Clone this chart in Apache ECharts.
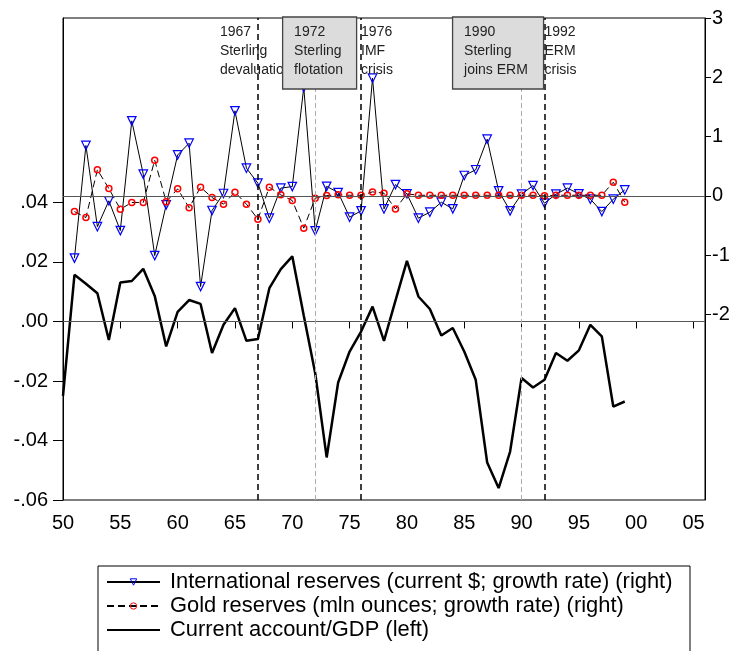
<!DOCTYPE html>
<html>
<head>
<meta charset="utf-8">
<script src="https://cdn.jsdelivr.net/npm/echarts@6/dist/echarts.min.js"></script>
<style>
  html, body { margin: 0; padding: 0; background: #fff; }
  #chart { width: 742px; height: 651px; }
</style>
</head>
<body>
<div id="chart"></div>
<script>
// UK external accounts, annual 1950-1999
const years = [];
for (let y = 1950; y <= 1999; y++) years.push(y);

// Current account / GDP (left axis)
const currentAccount = [
  -0.025, 0.0157, 0.0127, 0.0095, -0.0062, 0.0131, 0.0136, 0.0177, 0.0086, -0.0084,
  0.0032, 0.0072, 0.0059, -0.0106, -0.0011, 0.0045, -0.0065, -0.0059, 0.0112, 0.0176,
  0.0219, 0.002, -0.0174, -0.0457, -0.0205, -0.0101, -0.0034, 0.005, -0.0065, 0.007,
  0.0204, 0.0084, 0.0042, -0.0047, -0.0022, -0.0101, -0.0196, -0.0474, -0.056, -0.0437,
  -0.019, -0.0222, -0.0196, -0.0106, -0.0132, -0.0097, -0.0011, -0.005, -0.0286, -0.0269
];

// International reserves, current $, growth rate (right axis)
const intlReserves = [
  null, -1.05, 0.85, -0.52, -0.084, -0.585, 1.265, 0.366, -1.007, -0.152,
  0.69, 0.888, -1.53, -0.247, 0.04, 1.434, 0.467, 0.214, -0.376, 0.13,
  0.157, 1.83, -0.59, 0.16, 0.056, -0.36, -0.253, 1.985, -0.22, 0.19,
  0.034, -0.376, -0.275, -0.107, -0.219, 0.343, 0.44, 0.956, 0.084, -0.253,
  0.028, 0.174, -0.124, 0.028, 0.13, 0.034, -0.056, -0.265, -0.056, 0.10
];

// Gold reserves, mln ounces, growth rate (right axis)
const goldReserves = [
  null, -0.265, -0.366, 0.44, 0.123, -0.225, -0.112, -0.112, 0.602, -0.10,
  0.118, -0.20, 0.146, -0.028, -0.14, 0.062, -0.14, -0.393, 0.146, 0.017,
  -0.079, -0.545, -0.039, 0.005, 0.017, 0.01, 0.01, 0.067, 0.045, -0.22,
  0.034, 0.01, 0.01, 0.01, 0.01, 0.01, 0.01, 0.01, 0.01, 0.01,
  0.01, 0.01, 0.0, 0.01, 0.01, 0.01, 0.01, 0.01, 0.23, -0.107
];

const xTicks = [1950, 1955, 1960, 1965, 1970, 1975, 1980, 1985, 1990, 1995, 2000, 2005];
const leftTicks = [-0.06, -0.04, -0.02, 0, 0.02, 0.04];
const rightTicks = [-2, -1, 0, 1, 2, 3];

const seriesNames = [
  'International reserves (current $; growth rate) (right)',
  'Gold reserves (mln ounces; growth rate) (right)',
  'Current account/GDP (left)'
];

// Policy events marked with vertical lines
const eventYears = [1967, 1972, 1976, 1990, 1992];
const eventKinds = ['crisis', 'regime', 'crisis', 'regime', 'crisis'];
const eventTexts = [
  '1967\nSterling\ndevaluation',
  '1972\nSterling\nflotation',
  '1976\nIMF\ncrisis',
  '1990\nSterling\njoins ERM',
  '1992\nERM\ncrisis'
];

const FONT = "'Liberation Sans', Arial, Helvetica, sans-serif";

const pairs = (vals) => years.map((y, i) => [y, vals[i]]);

const eventLines = eventYears.map((y, i) => ({
  xAxis: y,
  lineStyle: eventKinds[i] === 'crisis'
    ? { color: '#000', width: 1.5, type: [6, 4] }
    : { color: '#aaa', width: 1, type: [5, 3] }
}));

const chart = echarts.init(document.getElementById('chart'), null, { renderer: 'canvas' });

const option = {
  animation: false,
  backgroundColor: '#fff',
  grid: {
    left: 63, right: 37, top: 18, bottom: 151,
    show: true, borderColor: '#000', borderWidth: 1, backgroundColor: 'transparent'
  },
  xAxis: {
    type: 'value', min: 1950, max: 2006,
    axisLine: { show: true, lineStyle: { color: '#000', width: 1 } },
    axisTick: { show: true, inside: false, length: 7, customValues: xTicks, lineStyle: { color: '#000' } },
    axisLabel: {
      customValues: xTicks, margin: 13,
      fontFamily: FONT, fontSize: 20, color: '#000',
      formatter: (v) => String(Math.round(v) % 100).padStart(2, '0')
    },
    splitLine: { show: false }
  },
  yAxis: [
    {
      type: 'value', min: -0.06, max: 0.102, position: 'left',
      axisLine: { show: true, onZero: false, lineStyle: { color: '#000', width: 1 } },
      axisTick: { show: true, length: 10, customValues: leftTicks, lineStyle: { color: '#000' } },
      axisLabel: {
        customValues: leftTicks, margin: 15,
        fontFamily: FONT, fontSize: 20, color: '#000',
        formatter: (v) => {
          const s = Math.abs(v).toFixed(2).replace(/^0/, '');
          return v < -1e-9 ? '-' + s : s;
        }
      },
      splitLine: { show: false }
    },
    {
      type: 'value', min: -5.13, max: 3, position: 'right',
      axisLine: { show: true, onZero: false, lineStyle: { color: '#000', width: 1 } },
      axisTick: { show: true, length: 6, customValues: rightTicks, lineStyle: { color: '#000' } },
      axisLabel: {
        customValues: rightTicks, margin: 7,
        fontFamily: FONT, fontSize: 20, color: '#000',
        formatter: (v) => String(Math.round(v))
      },
      splitLine: { show: false }
    }
  ],
  legend: {
    orient: 'vertical', left: 106, top: 571, height: 80, padding: 0,
    itemWidth: 53, itemHeight: 8, itemGap: 2,
    textStyle: { fontFamily: FONT, fontSize: 21.9, color: '#000', lineHeight: 21.5, padding: [0, 0, 0, 5] },
    data: [
      { name: seriesNames[0], itemStyle: { color: 'rgba(255,255,255,0)', borderColor: '#0000ff', borderWidth: 1 } },
      { name: seriesNames[1], itemStyle: { color: 'rgba(255,255,255,0)', borderColor: '#ff0000', borderWidth: 1 } },
      { name: seriesNames[2], itemStyle: { opacity: 0 } }
    ]
  },
  series: [
    {
      name: seriesNames[0], type: 'line', yAxisIndex: 1,
      data: pairs(intlReserves), connectNulls: false,
      symbol: 'triangle', symbolRotate: 180, symbolSize: 8.5, showAllSymbol: true,
      lineStyle: { color: '#000', width: 1 },
      itemStyle: { color: 'rgba(255,255,255,0)', borderColor: '#0000ff', borderWidth: 1.2 },
      z: 3,
      markLine: {
        silent: true, symbol: 'none', label: { show: false },
        lineStyle: { color: '#555', width: 1, type: 'solid' },
        data: [{ yAxis: 0 }]
      }
    },
    {
      name: seriesNames[1], type: 'line', yAxisIndex: 1,
      data: pairs(goldReserves),
      symbol: 'circle', symbolSize: 6, showAllSymbol: true,
      lineStyle: { color: '#000', width: 1, type: [7, 4] },
      itemStyle: { color: 'rgba(255,255,255,0)', borderColor: '#ff0000', borderWidth: 1.5 },
      z: 4
    },
    {
      name: seriesNames[2], type: 'line', yAxisIndex: 0,
      data: pairs(currentAccount),
      symbol: 'none',
      lineStyle: { color: '#000', width: 2.5 },
      itemStyle: { color: '#000' },
      z: 2,
      markLine: {
        silent: true, symbol: 'none', label: { show: false },
        data: [{ yAxis: 0, lineStyle: { color: '#555', width: 1, type: 'solid' } }].concat(eventLines)
      }
    }
  ]
};

chart.setOption(option);

// Event annotations: plain captions for crises, grey boxes for regime changes
const annotLayout = {
  crisisOffset: { 1967: -38, 1976: 0, 1992: 0 },
  boxLeft: { 1972: -32.6, 1990: -69 },
  boxWidth: { 1972: 74, 1990: 91 }
};
const plotTop = 18;
const graphics = [
  { type: 'rect', z: 50, silent: true,
    shape: { x: 98, y: 566, width: 592, height: 120 },
    style: { fill: 'none', stroke: '#000', lineWidth: 1 } }
];
eventYears.forEach((y, i) => {
  const px = chart.convertToPixel({ xAxisIndex: 0 }, y);
  const textStyle = {
    text: eventTexts[i], fill: '#222',
    font: '14px ' + FONT, lineHeight: 19
  };
  if (eventKinds[i] === 'regime') {
    const left = px + annotLayout.boxLeft[y];
    graphics.push({
      type: 'rect', z: 101, silent: true,
      shape: { x: left, y: plotTop - 1, width: annotLayout.boxWidth[y], height: 72 },
      style: { fill: '#dcdcdc', stroke: '#444', lineWidth: 1.3 }
    });
    graphics.push({
      type: 'text', z: 102, silent: true, x: left + 11.5, y: plotTop + 5,
      style: textStyle
    });
  } else {
    graphics.push({
      type: 'text', z: 100, silent: true, x: px + annotLayout.crisisOffset[y], y: plotTop + 5,
      style: textStyle
    });
  }
});
chart.setOption({ graphic: graphics });
</script>
</body>
</html>
